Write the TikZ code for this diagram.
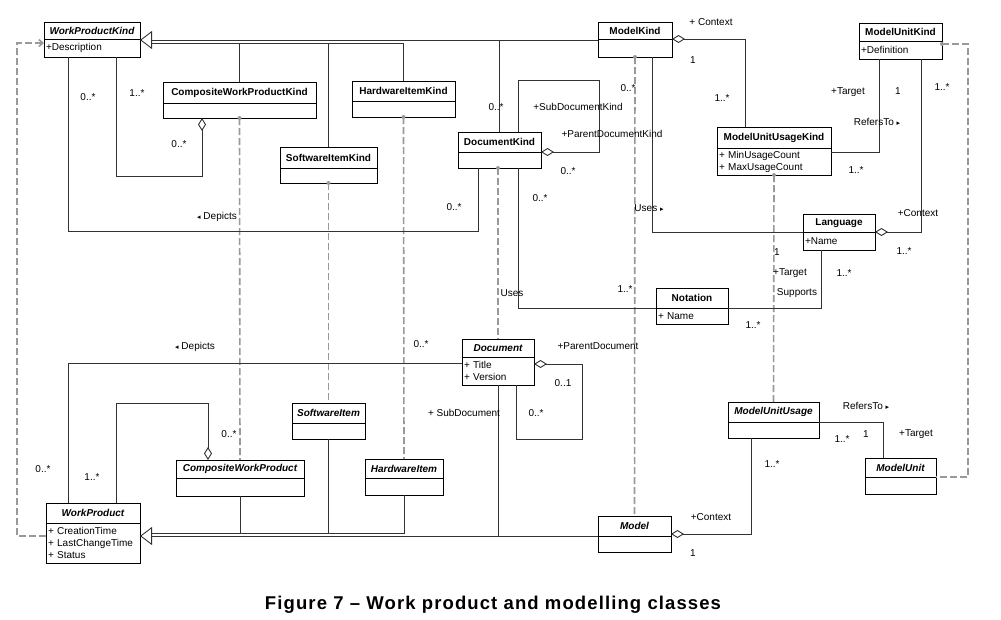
\documentclass[tikz,border=0pt]{standalone}
\usepackage{fontspec}
\setmainfont{Liberation Sans}
\newfontfamily\symfont{DejaVu Sans}
\newfontfamily\capfont[LetterSpace=6]{Liberation Sans}
\usetikzlibrary{arrows.meta}

\newcommand{\dirmark}[1]{{\symfont\fontsize{7}{7}\selectfont #1}}

\tikzset{
  lbl/.style={font=\fontsize{10}{11}\selectfont, inner sep=0pt},
  cls/.style 2 args={draw, anchor=north west, inner sep=0pt, outer sep=0pt,
    minimum width=#1, minimum height=#2, font=\fontsize{10}{11}\selectfont\bfseries},
  acls/.style 2 args={cls={#1}{#2}, font=\fontsize{10}{11}\selectfont\bfseries\itshape},
  attr/.style 2 args={draw, anchor=north west, inner xsep=2pt, inner ysep=0pt, outer sep=0pt,
    text width=#1-4, minimum height=#2, align=left, font=\fontsize{10}{12}\selectfont},
  conn/.style={draw=black!80, line width=0.9pt},
  agg/.style={conn, -{Diamond[open, fill=white, length=13pt, width=8pt]}},
  gen/.style={conn, -{Triangle[open, fill=white, length=12pt, width=18pt]}},
  ptype/.style={draw=black!40, line width=1.6pt, dash pattern=on 7pt off 3pt},
}

\begin{document}
\begin{tikzpicture}[x=1pt,y=-1pt]
  \useasboundingbox (0,0) rectangle (1001,619);

  % kinds
  \node[acls={96}{17}]  (wpk)    at (44,22)   {WorkProductKind};
  \node[attr={96}{18}]  (wpk-a)  at (wpk.south west) {+Description};
  \node[cls={153}{21}]  (cwpk)   at (163,82)  {CompositeWorkProductKind};
  \node[attr={153}{15}] (cwpk-a) at (cwpk.south west) {};
  \node[cls={103}{20}]  (hik)    at (352,81)  {HardwareItemKind};
  \node[attr={103}{16}] (hik-a)  at (hik.south west) {};
  \node[cls={97}{21}]   (sik)    at (280,147) {SoftwareItemKind};
  \node[attr={97}{15}]  (sik-a)  at (sik.south west) {};
  \node[cls={83}{20}]   (dk)     at (458,132) {DocumentKind};
  \node[attr={83}{16}]  (dk-a)   at (dk.south west) {};
  \node[cls={74}{17}]   (mk)     at (598,22)  {ModelKind};
  \node[attr={74}{18}]  (mk-a)   at (mk.south west) {};
  \node[cls={83}{18}]   (muk)    at (859,23)  {ModelUnitKind};
  \node[attr={83}{18}]  (muk-a)  at (muk.south west) {+Definition};
  \node[cls={114}{21}]  (muuk)   at (717,127) {ModelUnitUsageKind};
  \node[attr={114}{27}] (muuk-a) at (muuk.south west) {+ MinUsageCount\\+ MaxUsageCount};
  \node[cls={72}{18}]   (lang)   at (803,214) {Language};
  \node[attr={72}{18}]  (lang-a) at (lang.south west) {+Name};
  \node[cls={72}{20}]   (nota)   at (656,288) {Notation};
  \node[attr={72}{16}]  (nota-a) at (nota.south west) {+ Name};

  % products
  \node[acls={72}{18}]  (doc)    at (462,339) {Document};
  \node[attr={72}{28}]  (doc-a)  at (doc.south west) {+ Title\\+ Version};
  \node[acls={73}{20}]  (si)     at (292,403) {SoftwareItem};
  \node[attr={73}{16}]  (si-a)   at (si.south west) {};
  \node[acls={78}{19}]  (hi)     at (365,459) {HardwareItem};
  \node[attr={78}{17}]  (hi-a)   at (hi.south west) {};
  \node[acls={128}{18}] (cwp)    at (176,460) {CompositeWorkProduct};
  \node[attr={128}{18}] (cwp-a)  at (cwp.south west) {};
  \node[acls={94}{20}]  (wp)     at (46,503)  {WorkProduct};
  \node[attr={94}{40}]  (wp-a)   at (wp.south west) {+ CreationTime\\+ LastChangeTime\\+ Status};
  \node[acls={91}{20}]  (muu)    at (728,402) {ModelUnitUsage};
  \node[attr={91}{16}]  (muu-a)  at (muu.south west) {};
  \node[acls={71}{19}]  (mu)     at (865,458) {ModelUnit};
  \node[attr={71}{17}]  (mu-a)   at (mu.south west) {};
  \node[acls={73}{20}]  (model)  at (598,516) {Model};
  \node[attr={73}{16}]  (model-a) at (model.south west) {};

  \coordinate (wpk-g) at ([yshift=-1]wpk.south east);
  \coordinate (wpk-b) at ([xshift=12]wpk-g);
  \coordinate (wp-g) at ([yshift=-13]wp.south east);
  \coordinate (wp-b) at ([xshift=12]wp-g);

  % kind / instance links
  \draw[ptype] (cwpk-a.south) -- (cwp.north);
  \draw[ptype] (sik-a.south) -- (si.north);
  \draw[ptype] (hik-a.south) -- (hi.north);
  \draw[ptype] ([xshift=40]dk-a.south west) -- (doc.north);
  \draw[ptype] (mk-a.south) -- (model.north);
  \draw[ptype] (muuk-a.south) -- (muu.north);
  \draw[ptype] ([yshift=-3]muk.south east) -- ++(26,0) |- (mu.south east);
  \draw[ptype, -{Straight Barb[length=4pt, width=7pt]}] ([yshift=-13]wp.south west) -- ++(-29,0) |- ([yshift=-4]wpk.south west);
  \foreach \n in {cwpk-a.south, sik-a.south, hik-a.south, mk-a.south, muuk-a.south}
    \fill[black!40] (\n) circle (2pt);
  \fill[black!40] ([xshift=40]dk-a.south west) circle (2pt);
  \fill[black!40] ([yshift=-3]muk.south east) circle (2pt);

  % generalisations
  \draw[gen] ([yshift=-1]mk.south west) -- (wpk-g);
  \draw[conn] (dk.north) |- (wpk-b);
  \draw[conn] (hik.north) |- ([yshift=-3]wpk-b);
  \draw[conn] (sik.north) |- ([yshift=-3]wpk-b);
  \draw[conn] (cwpk.north) |- ([yshift=-3]wpk-b);
  \draw[gen] (model.south west) -- (wp-g);
  \draw[conn] (doc-a.south) |- (wp-b);
  \draw[conn] (hi-a.south) |- ([yshift=3]wp-b);
  \draw[conn] (si-a.south) |- ([yshift=3]wp-b);
  \draw[conn] (cwp-a.south) |- ([yshift=3]wp-b);

  % associations
  \draw[conn] ([xshift=24]wpk-a.south west) -- ++(0,174) -| ([xshift=20]dk-a.south west);
  \draw[agg] ([xshift=72]wpk-a.south west) -- ++(0,119) -| ([xshift=39]cwpk-a.south west);
  \draw[agg] ([xshift=60]dk.north west) -- ++(0,-52) -- ++(81,0) |- (dk.south east);
  \draw[conn] ([xshift=60]dk-a.south west) |- (nota.south west);
  \draw[agg] ([xshift=28]muuk.north west) |- (mk.south east);
  \draw[conn] ([xshift=54]mk-a.south west) |- (lang.south west);
  \draw[conn] ([yshift=-4]muuk.south east) -| ([xshift=20]muk-a.south west);
  \draw[agg] ([xshift=62]muk-a.south west) |- (lang.south east);
  \draw[conn] ([xshift=18]lang-a.south west) |- (nota.south east);
  \draw[conn] ([yshift=-6]doc.south west) -| ([xshift=22]wp.north west);
  \draw[agg] ([xshift=70]wp.north west) -- ++(0,-100) -| ([xshift=32]cwp.north west);
  \draw[agg] ([xshift=54]doc-a.south west) -- ++(0,54) -- ++(66,0) |- ([yshift=-7]doc.south east);
  \draw[conn] (muu.south east) -| ([xshift=18]mu.north west);
  \draw[agg] ([xshift=23]muu-a.south west) |- ([yshift=2]model.south east);

  \begin{scope}[every node/.style={lbl}]
    \node (l1)  at (88,97)   {0..*};
    \node (l2)  at (137,93)  {1..*};
    \node (l3)  at (179,144) {0..*};
    \node (l4)  at (217,217) {\dirmark{◂}~Depicts};
    \node (l5)  at (454,207) {0..*};
    \node (l6)  at (496,107) {0..*};
    \node (l7)  at (578,107) {+SubDocumentKind};
    \node (l8)  at (612,134) {+ParentDocumentKind};
    \node (l9)  at (568,171) {0..*};
    \node (l10) at (628,88)  {0..*};
    \node (l11) at (711,22)  {+ Context};
    \node (l12) at (693,60)  {1};
    \node (l13) at (722,98)  {1..*};
    \node (l14) at (848,92)  {+Target};
    \node (l15) at (898,91)  {1};
    \node (l16) at (942,87)  {1..*};
    \node (l17) at (877,122) {RefersTo~\dirmark{▸}};
    \node (l18) at (856,170) {1..*};
    \node (l19) at (918,213) {+Context};
    \node (l20) at (904,251) {1..*};
    \node (l21) at (540,198) {0..*};
    \node (l22) at (649,208) {Uses~\dirmark{▸}};
    \node (l23) at (777,252) {1};
    \node (l24) at (790,273) {+Target};
    \node (l25) at (797,293) {Supports};
    \node (l26) at (844,273) {1..*};
    \node (l27) at (753,325) {1..*};
    \node (l28) at (512,293) {Uses};
    \node (l29) at (625,289) {1..*};
    \node (l30) at (195,347) {\dirmark{◂}~Depicts};
    \node (l31) at (421,344) {0..*};
    \node (l32) at (598,346) {+ParentDocument};
    \node (l33) at (563,383) {0..1};
    \node (l34) at (536,413) {0..*};
    \node (l35) at (464,413) {+ SubDocument};
    \node (l36) at (43,469)  {0..*};
    \node (l37) at (92,477)  {1..*};
    \node (l38) at (229,434) {0..*};
    \node (l39) at (866,406) {RefersTo~\dirmark{▸}};
    \node (l40) at (842,439) {1..*};
    \node (l41) at (866,434) {1};
    \node (l42) at (916,434) {+Target};
    \node (l43) at (711,517) {+Context};
    \node (l44) at (693,553) {1};
    \node (l45) at (772,464) {1..*};
  \end{scope}

  \node[inner sep=0pt, font=\capfont\bfseries\fontsize{18.5}{20}\selectfont] (cap) at (493,605)
    {Figure 7 – Work product and modelling classes};
\end{tikzpicture}
\end{document}
